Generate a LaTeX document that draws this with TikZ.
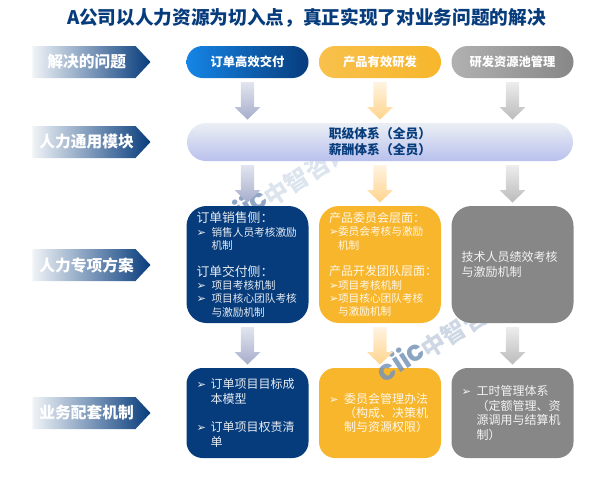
\documentclass[tikz,border=0pt]{standalone}
\usepackage{fontspec}
\usetikzlibrary{calc,shapes.symbols}
\setmainfont{Noto Sans CJK SC}
\newfontfamily\symfont{DejaVu Sans}
\newfontfamily\logofont{Poppins}

\definecolor{navy}{HTML}{073C7C}
\definecolor{skyblue}{HTML}{1585E6}
\definecolor{amber}{HTML}{F7B62C}
\definecolor{slate}{HTML}{878787}
\definecolor{navytop}{HTML}{E2E5EF}
\definecolor{navyend}{HTML}{A6ADCB}
\definecolor{ambertop}{HTML}{FFF3E2}
\definecolor{amberend}{HTML}{FFD48C}
\definecolor{slatetop}{HTML}{EDEDED}
\definecolor{slateend}{HTML}{BBBBBB}

%Bullet with its hanging width
\newcommand{\bul}[1]{\makebox[#1][l]{\symfont\fontsize{8.5}{8.5}\selectfont ➢}}
\newcommand{\hang}[1]{\hspace*{#1}}
\newcommand{\headline}[2][9.6]{{\fontsize{#1}{10}\selectfont #2}}

%Block arrow from the lower edge of one node to the upper edge of the next
\newcommand{\blockarrow}[4]{
	\path[top color=#3,bottom color=#4] let \p1=(#1), \p2=(#2) in
	(\x1-4.9pt,\y1-3pt) -- (\x1+4.9pt,\y1-3pt) -- (\x1+4.9pt,\y2+12pt) -- (\x1+9.75pt,\y2+12pt)
	-- (\x1,\y2+2.6pt) -- (\x1-9.75pt,\y2+12pt) -- (\x1-4.9pt,\y2+12pt) -- cycle;
}

\tikzset{
	rowlabel/.style={signal,signal to=east,signal pointer angle=94,minimum width=88.5pt,minimum height=24pt,inner sep=0pt,outer sep=0pt,
		left color=navy!6,right color=navy,text=white,font=\bfseries\fontsize{11.8}{12}\selectfont,execute at begin node=\hspace*{4pt}},
	pill/.style={rounded corners=12pt,minimum width=91.5pt,minimum height=24pt,inner sep=0pt,outer sep=0pt,text=white,font=\bfseries\fontsize{9.2}{10}\selectfont},
	planbox/.style={rounded corners=#1,minimum width=91.5pt,text width=76.5pt,inner xsep=7.5pt,inner ysep=0pt,outer sep=0pt,align=left},
	smalltext/.style={font=\fontsize{8}{10}\selectfont},
	bigtext/.style={font=\fontsize{9}{10.8}\selectfont},
	logotext/.style={rotate=33,inner sep=0pt,text=#1,font=\logofont\bfseries\fontsize{21}{21}\selectfont},
	marktext/.style={rotate=33,inner sep=0pt,text=#1,font=\bfseries\fontsize{18}{18}\selectfont},
}

\begin{document}
\begin{tikzpicture}[x=0.75pt,y=-0.75pt]
	\useasboundingbox (0,0) rectangle (600,486);
	
	%Title
	\node[text=navy,font=\bfseries\fontsize{14}{14}\selectfont] (title) at (306.5,18) {A公司以人力资源为切入点，真正实现了对业务问题的解决};
	
	%Mark that lies under the boxes
	\node[logotext=navy!45] (logoa) at (243,208) {ciic};
	\node[marktext=navy!14] (marka) at (307,174) {中智咨询};
	
	%Row labels
	\node[rowlabel] (labela) at (84,62) {解决的问题};
	\node[rowlabel] (labelb) at (84,142) {人力通用模块};
	\node[rowlabel] (labelc) at (84,265) {人力专项方案};
	\node[rowlabel] (labeld) at (84,413) {业务配套机制};
	
	%Head of each column
	\node[pill,left color=skyblue,right color=navy] (heada) at (247.5,62) {订单高效交付};
	\node[pill,left color=amber!85!white,right color=amber] (headb) at (380,62) {产品有效研发};
	\node[pill,left color=slate!65!white,right color=slate] (headc) at (512.5,62) {研发资源池管理};
	
	%Common bar
	\node[rounded corners=14.25pt,minimum width=289.5pt,minimum height=28.5pt,inner sep=0pt,outer sep=0pt,align=center,
		top color=navy!8,bottom color=blue!50!navy!28,text=navy,font=\bfseries\fontsize{9.6}{12}\selectfont] (bar) at (380,142)
		{职级体系（全员）\\薪酬体系（全员）};
	
	%Third row
	\node[planbox=15pt,fill=navy,minimum height=87.75pt,text=navy!10,smalltext] (plana) at (247.5,264.5)
		{\headline{订单销售侧：}\\
		\bul{11.25pt}销售人员考核激励\\
		\hang{11.25pt}机制\\[10pt]
		\headline{订单交付侧：}\\
		\bul{11.25pt}项目考核机制\\
		\bul{11.25pt}项目核心团队考核\\
		\hang{11.25pt}与激励机制};
	\node[planbox=15pt,fill=amber,minimum height=87.75pt,text=amber!10,smalltext] (planb) at (380,264.5)
		{\headline[9]{产品委员会层面：}\\
		\bul{6.75pt}委员会考核与激励\\
		\hang{6.75pt}机制\\[10pt]
		\headline[9]{产品开发团队层面：}\\
		\bul{6.75pt}项目考核机制\\
		\bul{6.75pt}项目核心团队考核\\
		\hang{6.75pt}与激励机制};
	
	%Fourth row, first two columns
	\node[planbox=12pt,fill=navy,minimum height=67.5pt,text=navy!10,bigtext] (basea) at (247.5,413)
		{\bul{10.5pt}订单项目目标成\\
		\hang{10.5pt}本模型\\[10.8pt]
		\bul{10.5pt}订单项目权责清\\
		\hang{10.5pt}单};
	\node[planbox=12pt,fill=amber,minimum height=67.5pt,text=amber!10,bigtext] (baseb) at (380,413)
		{\bul{11.25pt}委员会管理办法\\
		\hang{11.25pt}（构成、决策机\\
		\hang{11.25pt}制与资源权限）};
	
	%Mark that lies over the amber box
	\node[logotext=navy!55,opacity=.85] (logob) at (400,360) {ciic};
	\node[marktext=navy!20] (markb) at (464,326) {中智咨询};
	
	%Last column
	\node[planbox=15pt,fill=slate,minimum height=87.75pt,text=white!90!slate,bigtext] (planc) at (512.5,264.5)
		{技术人员绩效考核\\与激励机制};
	\node[planbox=12pt,fill=slate,minimum height=67.5pt,text=white!90!slate,bigtext] (basec) at (512.5,413)
		{\bul{11.25pt}工时管理体系\\
		\hang{11.25pt}（定额管理、资\\
		\hang{11.25pt}源调用与结算机\\
		\hang{11.25pt}制）};
	
	%Arrows between rows
	\blockarrow{heada.south}{bar.north -| heada}{navytop}{navyend}
	\blockarrow{headb.south}{bar.north -| headb}{ambertop}{amberend}
	\blockarrow{headc.south}{bar.north -| headc}{slatetop}{slateend}
	\blockarrow{bar.south -| heada}{plana.north}{navytop}{navyend}
	\blockarrow{bar.south -| headb}{planb.north}{ambertop}{amberend}
	\blockarrow{bar.south -| headc}{planc.north}{slatetop}{slateend}
	\blockarrow{plana.south}{basea.north}{navytop}{navyend}
	\blockarrow{planb.south}{baseb.north}{ambertop}{amberend}
	\blockarrow{planc.south}{basec.north}{slatetop}{slateend}
\end{tikzpicture}
\end{document}
